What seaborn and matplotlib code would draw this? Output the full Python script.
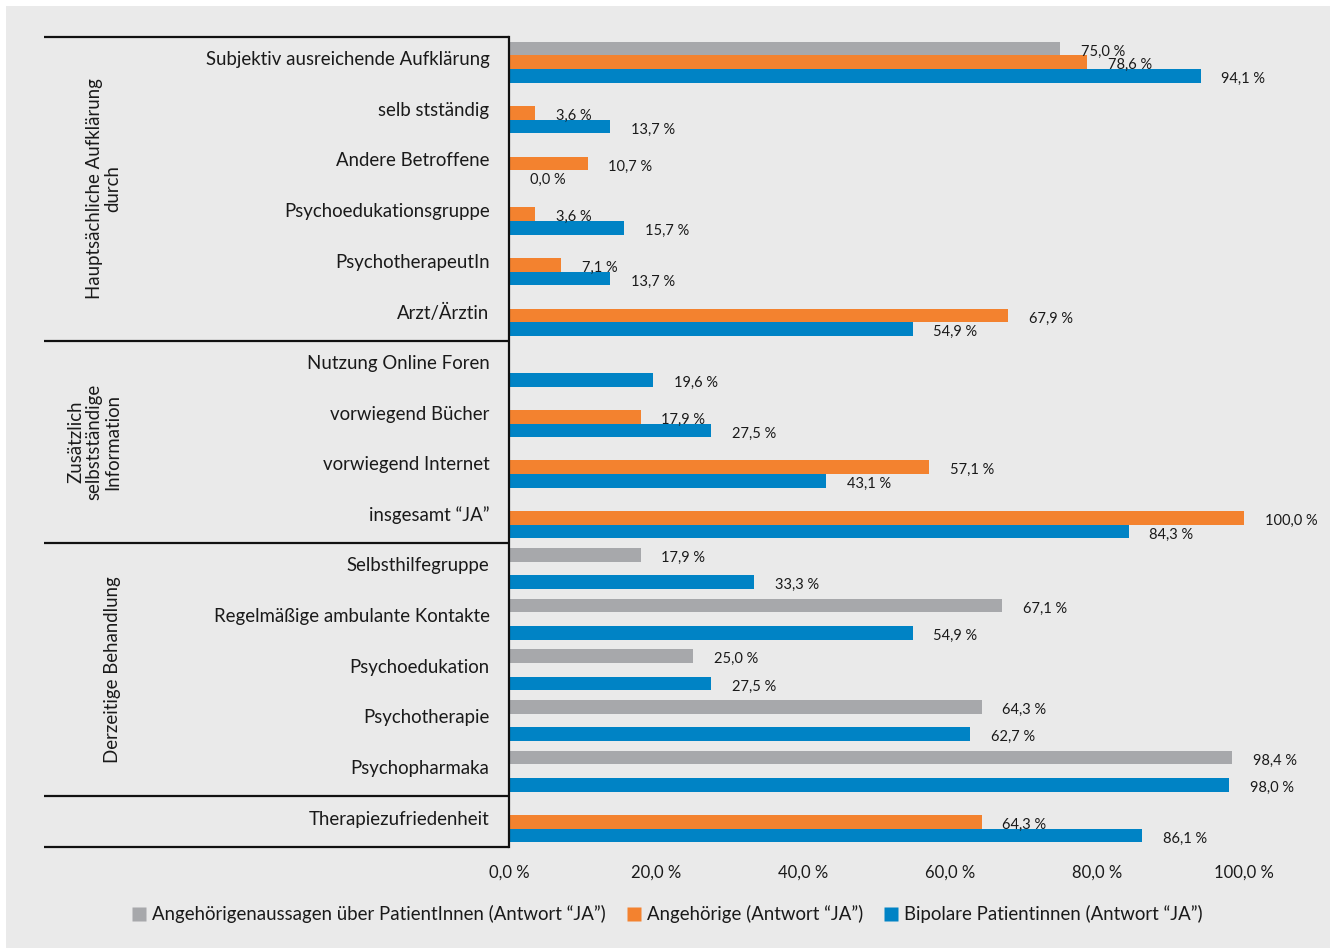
import numpy as np
import pandas as pd
import matplotlib
matplotlib.use("Agg")
import matplotlib.pyplot as plt
import matplotlib.transforms as mtransforms
from matplotlib.lines import Line2D
from matplotlib.patches import Rectangle
import seaborn as sns

# ---- data -------------------------------------------------------------
categories = [
    "Subjektiv ausreichende Aufklärung",
    "selb stständig",
    "Andere Betroffene",
    "Psychoedukationsgruppe",
    "PsychotherapeutIn",
    "Arzt/Ärztin",
    "Nutzung Online Foren",
    "vorwiegend Bücher",
    "vorwiegend Internet",
    "insgesamt “JA”",
    "Selbsthilfegruppe",
    "Regelmäßige ambulante Kontakte",
    "Psychoedukation",
    "Psychotherapie",
    "Psychopharmaka",
    "Therapiezufriedenheit",
]

series_names = [
    "Angehörigenaussagen über PatientInnen (Antwort “JA”)",
    "Angehörige (Antwort “JA”)",
    "Bipolare Patientinnen (Antwort “JA”)",
]

nan = np.nan
angehoerigenaussagen = [75.0, nan, nan, nan, nan, nan, nan, nan, nan, nan,
                        17.9, 67.1, 25.0, 64.3, 98.4, nan]
angehoerige = [78.6, 3.6, 10.7, 3.6, 7.1, 67.9, nan, 17.9, 57.1, 100.0,
               nan, nan, nan, nan, nan, 64.3]
patientinnen = [94.1, 13.7, 0.0, 15.7, 13.7, 54.9, 19.6, 27.5, 43.1, 84.3,
                33.3, 54.9, 27.5, 62.7, 98.0, 86.1]

# group headings: (label, first category index, last category index)
groups = [
    ("Hauptsächliche Aufklärung\ndurch", 0, 5),
    ("Zusätzlich\nselbstständige\nInformation", 6, 9),
    ("Derzeitige Behandlung", 10, 14),
    ("", 15, 15),
]

x_ticks = [0, 20, 40, 60, 80, 100]

colors = ["#a7a8ab", "#f3822f", "#0083c5"]
bg = "#eaeaea"
text_color = "#1a1a1a"

# ---- long table -------------------------------------------------------
frames = []
for name, vals in zip(series_names, [angehoerigenaussagen, angehoerige, patientinnen]):
    frames.append(pd.DataFrame({"Kategorie": categories, "Wert": vals, "Gruppe": name}))
df = pd.concat(frames, ignore_index=True).dropna(subset=["Wert"])

# ---- figure -----------------------------------------------------------
sns.set_theme(style="white")
plt.rcParams["font.family"] = ["Lato", "DejaVu Sans"]
plt.rcParams["text.color"] = text_color

fig = plt.figure(figsize=(13.35, 9.5), dpi=100, facecolor="white")
fig.patches.append(Rectangle((6 / 1335, 2 / 950), 1324 / 1335, 942 / 950,
                             transform=fig.transFigure, facecolor=bg,
                             edgecolor="none", zorder=-10))

ax = fig.add_axes([509 / 1335, 1 - 847 / 950, (1244 - 509) / 1335, (847 - 37) / 950])
ax.set_facecolor(bg)

sns.barplot(data=df, y="Kategorie", x="Wert", hue="Gruppe",
            order=categories, hue_order=series_names,
            palette=dict(zip(series_names, colors)),
            orient="h", width=0.81, errorbar=None, legend=False,
            saturation=1, linewidth=0, edgecolor="none", ax=ax)

ax.set_xlim(0, 100)
ax.set_ylim(len(categories) - 0.5, -0.5)
ax.set_xlabel("")
ax.set_ylabel("")
ax.set_xticks(x_ticks)
ax.set_xticklabels([f"{v:.1f}".replace(".", ",") + " %" for v in x_ticks])
ax.tick_params(axis="x", length=0, pad=13, labelsize=12, colors=text_color)
ax.tick_params(axis="y", length=0, pad=14, labelsize=13.4, colors=text_color)

# category names sit slightly above the middle of their bar group
lift = mtransforms.ScaledTranslation(0, 3 / 72, fig.dpi_scale_trans)
for lbl in ax.get_yticklabels():
    lbl.set_transform(lbl.get_transform() + lift)

for side in ["top", "right", "bottom"]:
    ax.spines[side].set_visible(False)
ax.spines["left"].set_color("#111111")
ax.spines["left"].set_linewidth(1.6)

# value labels next to every bar
for container in ax.containers:
    anns = ax.bar_label(container,
                        labels=[f"{b.get_width():.1f}".replace(".", ",") + " %" for b in container],
                        padding=15, fontsize=10.5, color=text_color)
    for a in anns:
        a.xyann = (15, -2.2)

# group separators and headings in the label column
trans = mtransforms.blended_transform_factory(ax.transAxes, ax.transData)
x_left = (44 - 509) / (1244 - 509)
bounds = sorted({g[1] - 0.5 for g in groups} | {groups[-1][2] + 0.5})
for yb in bounds:
    ax.plot([x_left, 0], [yb, yb], transform=trans, color="#111111",
            lw=1.6, clip_on=False, solid_capstyle="butt")

x_head = (121 - 509) / (1244 - 509)
for label, i0, i1 in groups:
    if label:
        ax.text(x_head, (i0 + i1) / 2, label, transform=trans, rotation=90,
                ha="right", va="center", multialignment="center",
                fontsize=13.4, color=text_color, linespacing=1.1)

# legend
handles = [Line2D([], [], marker="s", linestyle="none", markersize=9.5,
                  markerfacecolor=c, markeredgecolor="none") for c in colors]
fig.legend(handles, series_names, loc="center", ncol=3,
           bbox_to_anchor=(0.5, 1 - 914 / 950), frameon=False,
           fontsize=13.4, handletextpad=0.3, columnspacing=1.1,
           handlelength=0.8, borderaxespad=0)

fig.savefig("out.png", dpi=100, facecolor="white")
